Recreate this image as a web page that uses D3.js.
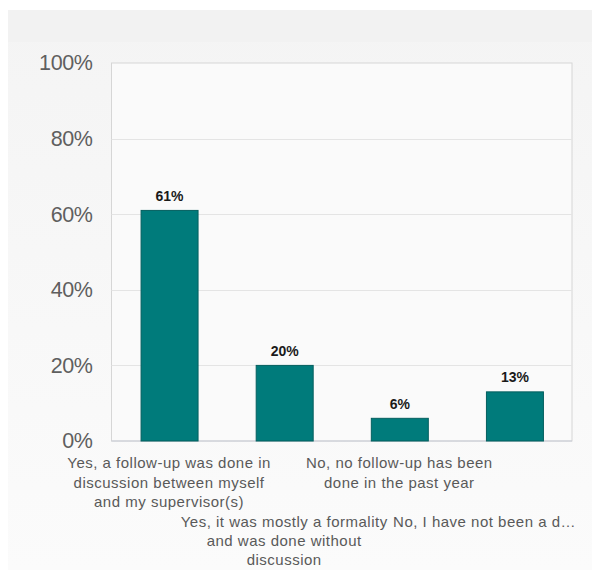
<!DOCTYPE html>
<html>
<head>
<meta charset="utf-8">
<script src="https://cdn.jsdelivr.net/npm/d3@7"></script>
<style>
  html, body { margin: 0; padding: 0; background: #ffffff; }
  svg { display: block; font-family: "Liberation Sans", Arial, sans-serif; }
</style>
</head>
<body>
<svg id="chart" width="592" height="570"></svg>
<script>
// ---- data ----
const categories = [
  "Yes, a follow-up was done in\ndiscussion between myself\nand my supervisor(s)",
  "Yes, it was mostly a formality\nand was done without\ndiscussion",
  "No, no follow-up has been\ndone in the past year",
  "No, I have not been a d\u2026"
];
const values = [61, 20, 6, 13];
const yTicks = [0, 20, 40, 60, 80, 100];

// ---- layout ----
const W = 592, H = 570;
const plot = { left: 111.5, right: 572, top: 63, bottom: 441 };
const svg = d3.select("#chart");

const defs = svg.append("defs");
const grad = defs.append("linearGradient").attr("id", "bg").attr("x1", 0).attr("y1", 0).attr("x2", 0).attr("y2", 1);
grad.append("stop").attr("offset", "0%").attr("stop-color", "#f4f4f4");
grad.append("stop").attr("offset", "100%").attr("stop-color", "#fbfbfb");

svg.append("rect").attr("x", 8).attr("y", 10).attr("width", W - 8).attr("height", H - 10).attr("fill", "url(#bg)");
svg.append("rect").attr("x", 8).attr("y", 10).attr("width", W - 8).attr("height", 32).attr("fill", "#f2f2f2");

const x = d3.scaleBand().domain(d3.range(categories.length)).range([plot.left, plot.right]).paddingInner(0.505).paddingOuter(0.2525);
const y = d3.scaleLinear().domain([0, 100]).range([plot.bottom, plot.top]);

// plot area
svg.append("rect").attr("x", plot.left).attr("y", plot.top)
  .attr("width", plot.right - plot.left).attr("height", plot.bottom - plot.top)
  .attr("fill", "#fafafa").attr("stroke", "#d6d6d6").attr("stroke-width", 1);

// gridlines
svg.append("g").selectAll("line").data(yTicks.filter(t => t > 0 && t < 100)).join("line")
  .attr("x1", plot.left).attr("x2", plot.right)
  .attr("y1", d => Math.round(y(d)) + 0.5).attr("y2", d => Math.round(y(d)) + 0.5)
  .attr("stroke", "#e4e4e4").attr("stroke-width", 1);

// y axis via d3 axis
const yAxis = d3.axisLeft(y).tickValues(yTicks).tickFormat(d => d + "%").tickSize(0).tickPadding(19);
const gy = svg.append("g").attr("transform", `translate(${plot.left},0)`).call(yAxis);
gy.select(".domain").remove();
gy.selectAll("text").attr("fill", "#5f5f5f").style("font-size", "21.5px")
  .style("font-family", "'Liberation Sans', Arial, sans-serif").attr("letter-spacing", "-0.4px");

// bottom axis line
svg.append("line").attr("x1", plot.left).attr("x2", plot.right).attr("y1", plot.bottom).attr("y2", plot.bottom)
  .attr("stroke", "#c8cbd6").attr("stroke-width", 1.2);

// bars
svg.append("g").selectAll("rect").data(values).join("rect")
  .attr("x", (d, i) => x(i) + 0.5).attr("width", x.bandwidth())
  .attr("y", d => y(d)).attr("height", d => y(0) - y(d))
  .attr("fill", "#007b7b").attr("stroke", "#045f5f").attr("stroke-width", 1);

// value labels
svg.append("g").selectAll("text").data(values).join("text")
  .attr("x", (d, i) => x(i) + x.bandwidth() / 2 + 0.5).attr("y", d => y(d) - 9.5)
  .attr("text-anchor", "middle").attr("font-weight", "bold").attr("font-size", "14px")
  .attr("fill", "#1a1a1a").text(d => d + "%");

// category labels (staggered rows)
const lineH = 19.4, firstBase = 468.3;
const lab = svg.append("g");
categories.forEach((c, i) => {
  const lines = c.split("\n");
  const row = i % 2;
  const cx = x(i) + x.bandwidth() / 2;
  const t = lab.append("text").attr("text-anchor", "middle").attr("fill", "#595959")
    .attr("font-size", "15px").attr("letter-spacing", "0.5px");
  lines.forEach((ln, k) => {
    t.append("tspan").attr("x", cx).attr("y", firstBase + (row * 3 + k) * lineH).text(ln);
  });
  // keep inside the right edge
  const bb = t.node().getBBox();
  const maxRight = 576;
  if (bb.x + bb.width > maxRight) {
    const shift = bb.x + bb.width - maxRight;
    t.selectAll("tspan").attr("x", cx - shift);
  }
});
</script>
</body>
</html>
